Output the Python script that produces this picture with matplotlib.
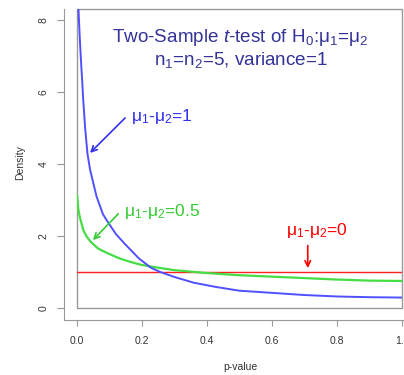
import matplotlib
matplotlib.use('Agg')
import matplotlib.pyplot as plt
from matplotlib.patches import Rectangle

plt.rcParams['font.family'] = ['Liberation Sans', 'DejaVu Sans']
plt.rcParams['mathtext.fontset'] = 'custom'
plt.rcParams['mathtext.rm'] = 'Liberation Sans'
plt.rcParams['mathtext.it'] = 'Liberation Sans:italic'

# values
p_blue = [0.004, 0.008, 0.012, 0.016, 0.019, 0.025, 0.032, 0.04, 0.052, 0.06, 0.07, 0.08,
          0.094, 0.105, 0.12, 0.145, 0.19, 0.227, 0.256, 0.3, 0.36, 0.43, 0.5, 0.6,
          0.7, 0.8, 0.9, 1.0]
d_blue = [8.4, 7.6, 6.9, 6.3, 5.8, 5.0, 4.3, 3.85, 3.4, 3.1, 2.85, 2.6,
          2.4, 2.25, 2.05, 1.8, 1.38, 1.12, 1.0, 0.86, 0.7, 0.58, 0.48, 0.42,
          0.36, 0.32, 0.30, 0.29]
p_green = [0.0, 0.004, 0.008, 0.011, 0.02, 0.03, 0.042, 0.065, 0.094, 0.13, 0.164, 0.197,
           0.235, 0.3, 0.4, 0.5, 0.6, 0.7, 0.8, 0.9, 1.0]
d_green = [3.14, 2.75, 2.55, 2.44, 2.15, 1.98, 1.84, 1.65, 1.52, 1.38, 1.28, 1.2,
           1.14, 1.05, 0.97, 0.91, 0.87, 0.83, 0.79, 0.76, 0.75]
p_red = [0.0, 1.0]
d_red = [1.0, 1.0]
xticks = [0.0, 0.2, 0.4, 0.6, 0.8, 1.0]
yticks = [0, 2, 4, 6, 8]

fig = plt.figure(figsize=(4.04, 3.75), dpi=100)
ax = fig.add_axes([77/404, 1 - 308/375, 325/404, 299/375])

ax.plot(p_red, d_red, color='#ff2020', lw=1)
ax.plot(p_green, d_green, color='#44dd44', lw=1.6)
ax.plot(p_blue, d_blue, color='#5050ff', lw=1.4)

ax.set_xlim(0, 1)
ax.set_ylim(0, 8.3)

gray = '#999999'
ax.add_patch(Rectangle((0, 0), 1, 1, transform=ax.transAxes, fill=False,
                       edgecolor=gray, lw=1, clip_on=False))
ax.spines['top'].set_visible(False)
ax.spines['right'].set_visible(False)
ax.spines['left'].set_position(('outward', 9.4))
ax.spines['bottom'].set_position(('outward', 8.6))
ax.spines['left'].set_bounds(-0.33, 8.3)
ax.spines['bottom'].set_bounds(-0.04, 1.01)
for s in ['left', 'bottom']:
    ax.spines[s].set_color(gray)

ax.set_xticks(xticks)
ax.set_xticklabels(['%.1f' % v for v in xticks])
ax.set_yticks(yticks)
ax.set_yticklabels([str(v) for v in yticks], rotation=90, va='center')
ax.tick_params(axis='both', colors=gray, labelcolor='#333333', labelsize=7.5)
ax.tick_params(axis='y', length=5, pad=6)
ax.tick_params(axis='x', length=4.3, pad=7)

fig.text(20/404, 1 - 163/375, 'Density', rotation=90, ha='center', va='center',
         fontsize=7.5, color='#333333')
fig.text(240/404, 1 - 367/375, 'p-value', ha='center', va='center',
         fontsize=7.5, color='#333333')

title_col = '#333399'
ax.text(0.503, 7.39, r'Two-Sample $t$-test of H$_0$:μ$_1$=μ$_2$', ha='center',
        va='baseline', fontsize=13.6, color=title_col)
ax.text(0.503, 6.75, r'n$_1$=n$_2$=5, variance=1', ha='center',
        va='baseline', fontsize=13.6, color=title_col)

arr = dict(arrowstyle='->', lw=1.2, mutation_scale=10)
ax.annotate('', xy=(0.034, 4.25), xytext=(0.154, 5.33),
            arrowprops=dict(arr, color='#3030ee'))
ax.text(0.167, 5.19, r'μ$_1$-μ$_2$=1', ha='left', va='baseline',
        fontsize=12.5, color='#3030ee')
ax.annotate('', xy=(0.043, 1.83), xytext=(0.133, 2.67),
            arrowprops=dict(arr, color='#33cc33'))
ax.text(0.145, 2.56, r'μ$_1$-μ$_2$=0.5', ha='left', va='baseline',
        fontsize=12.5, color='#33cc33')
ax.annotate('', xy=(0.71, 1.03), xytext=(0.71, 1.81),
            arrowprops=dict(arr, color='#ff0000'))
ax.text(0.642, 2.03, r'μ$_1$-μ$_2$=0', ha='left', va='baseline',
        fontsize=12.5, color='#ff0000')

fig.savefig('out.png', dpi=100)
